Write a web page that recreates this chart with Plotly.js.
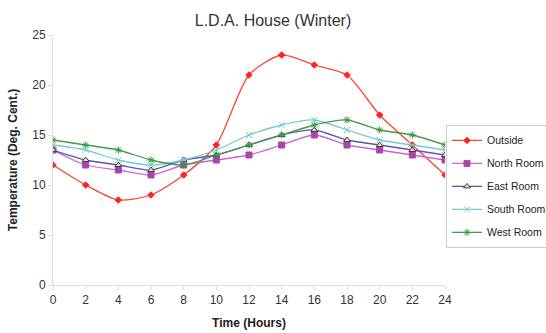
<!DOCTYPE html>
<html><head><meta charset="utf-8">
<script src="https://cdn.plot.ly/plotly-3.0.1.min.js"></script>
<style>html,body{margin:0;padding:0;background:#fff}#chart{width:546px;height:333px}</style>
</head><body><div id="chart"></div>
<script>
var hours = [0,2,4,6,8,10,12,14,16,18,20,22,24];
var outside = [12,10,8.5,9,11,14,21,23,22,21,17,14,11];
var north = [13.5,12,11.5,11,12,12.5,13,14,15,14,13.5,13,12.5];
var east = [13.5,12.5,12,11.5,12.5,13,14,15,15.5,14.5,14,13.5,13];
var south = [14,13.5,12.5,12,12.5,13.5,15,16,16.5,15.5,14.5,14,13.5];
var west = [14.5,14,13.5,12.5,12,13,14,15,16,16.5,15.5,15,14];
var names = ['Outside','North Room','East Room','South Room','West Room'];

function tr(y, name, lc, sym, mc, mlc, ms, grp) {
  return {x: hours, y: y, name: name, type: 'scatter', mode: 'lines+markers', legendgroup: grp,
    line: {color: lc, width: 1.3, shape: 'spline', smoothing: 0.7},
    marker: {symbol: sym, color: mc, size: ms, line: {color: mlc, width: 1}}};
}
var data = [
  tr(outside, names[0], '#FF4433', 'diamond', '#FF2222', '#FF2222', 5, 'a'),
  tr(north, names[1], '#CC66CC', 'square', '#AA44AA', '#AA44AA', 6, 'b'),
  tr(east, names[2], '#5555BB', 'triangle-up', '#FFEE33', '#333399', 6, 'c'),
  tr(south, names[3], '#77CCCC', 'x-thin-open', '#66CCCC', '#66CCCC', 6, 'd'),
  tr(west, names[4], '#44994A', 'asterisk-open', '#339933', '#339933', 6, 'e')
];
var layout = {
  width: 546, height: 333,
  margin: {l: 53, r: 101, t: 35, b: 48},
  paper_bgcolor: '#fff', plot_bgcolor: '#fff',
  font: {family: 'Liberation Sans, Arial, sans-serif', color: '#333', size: 12},
  title: {text: 'L.D.A. House (Winter)', x: 0.5, xanchor: 'center', y: 0.94, yanchor: 'middle',
    font: {size: 16, color: '#333'}},
  xaxis: {range: [0, 24], tickvals: hours, ticktext: hours.map(String), showgrid: false, zeroline: false,
    showline: true, linecolor: '#ddd', linewidth: 1, ticks: 'outside', ticklen: 4, tickcolor: '#ddd',
    tickfont: {size: 12, color: '#333'},
    title: {text: '<b>Time (Hours)</b>', font: {size: 12, color: '#222'}, standoff: 12}},
  yaxis: {range: [0, 25], dtick: 5, showgrid: false, zeroline: false,
    showline: true, linecolor: '#ddd', linewidth: 1, ticks: 'outside', ticklen: 4, tickcolor: '#ddd',
    tickfont: {size: 12, color: '#333'},
    title: {text: '<b>Temperature (Deg. Cent.)</b>', font: {size: 12, color: '#222'}, standoff: 12}},
  legend: {xref: 'container', yref: 'container', x: 446/546, xanchor: 'left', y: 0.625, yanchor: 'top',
    bordercolor: '#ccc', borderwidth: 1, traceorder: 'grouped', tracegroupgap: 4,
    bgcolor: '#fff', font: {size: 10.5, color: '#222'}, itemwidth: 30},
  showlegend: true
};
Plotly.newPlot('chart', data, layout, {displayModeBar: false, staticPlot: true});
</script></body></html>
